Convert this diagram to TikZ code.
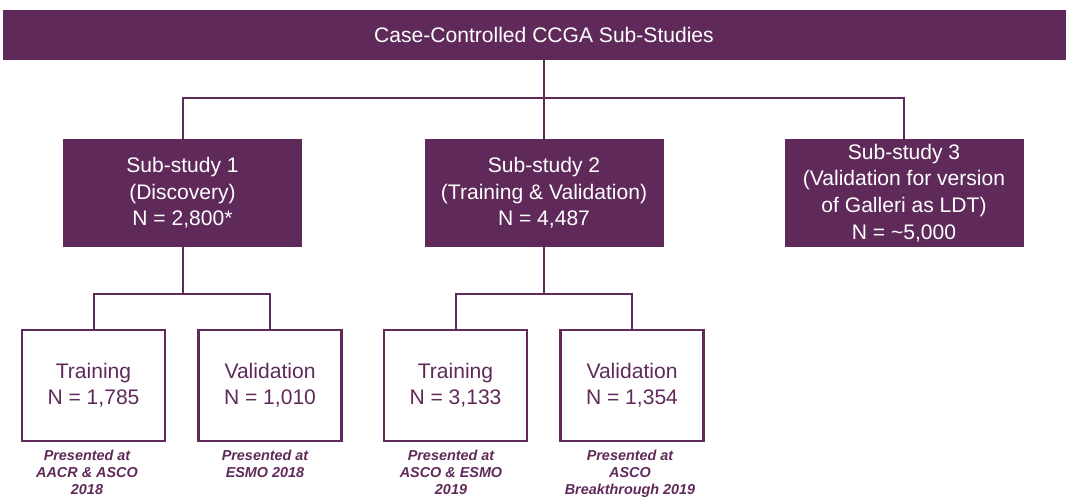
\documentclass[tikz,border=0pt]{standalone}
\usepackage{fontspec}
\setmainfont{Liberation Sans}
\definecolor{plum}{HTML}{5F2A5A}
\begin{document}
\begin{tikzpicture}[x=0.75pt,y=-0.75pt,
  conn/.style={draw=plum,line width=1.5pt},
  darkbox/.style={fill=plum,text=white,minimum width={239*0.75pt},minimum height={108*0.75pt},align=center,font=\fontsize{15.8}{20}\selectfont,inner sep=0pt},
  whitebox/.style={draw=plum,line width=1.6pt,fill=white,text=plum,minimum width={143*0.75pt},minimum height={111*0.75pt},align=center,font=\fontsize{15.8}{19.5}\selectfont,inner sep=0pt},
  note/.style={text=plum,font=\fontsize{10.8}{12.75}\selectfont\bfseries\itshape,align=center,anchor=north,inner sep=0pt}]
\useasboundingbox (0,0) rectangle (1066,498);

\node[fill=plum,text=white,minimum width={1082*0.75pt},minimum height={50*0.75pt},inner sep=0pt,font=\fontsize{15.8}{20}\selectfont] (top) at (544,35) {Case-Controlled CCGA Sub-Studies};

\node[darkbox] (s1) at (182.5,193) {Sub-study 1\\(Discovery)\\N = 2,800*};
\node[darkbox] (s2) at (544,193) {Sub-study 2\\(Training \& Validation)\\N = 4,487};
\node[darkbox] (s3) at (904,193) {Sub-study 3\\(Validation for version\\of Galleri as LDT)\\N = \textasciitilde5,000};

\node[whitebox] (b1) at (93.5,385.5) {Training\\N = 1,785};
\node[whitebox] (b2) at (270,385.5) {Validation\\N = 1,010};
\node[whitebox] (b3) at (455.5,385.5) {Training\\N = 3,133};
\node[whitebox] (b4) at (632,385.5) {Validation\\N = 1,354};

\node[note] (n1) at (87,450) {Presented at\\AACR \& ASCO\\2018};
\node[note] (n2) at (265,450) {Presented at\\ESMO 2018};
\node[note] (n3) at (451,450) {Presented at\\ASCO \& ESMO\\2019};
\node[note] (n4) at (630,450) {Presented at\\ASCO\\Breakthrough 2019};

\coordinate (j0) at (544,98);
\coordinate (j1) at (182.5,294);
\coordinate (j2) at (544,294);

\draw[conn] (top.south) -- (j0);
\draw[conn] (s1.north) |- (j0) -| (s3.north);
\draw[conn] (j0) -- (s2.north);
\draw[conn] (s1.south) -- (j1);
\draw[conn] (b1.north) |- (j1) -| (b2.north);
\draw[conn] (s2.south) -- (j2);
\draw[conn] (b3.north) |- (j2) -| (b4.north);
\end{tikzpicture}
\end{document}
